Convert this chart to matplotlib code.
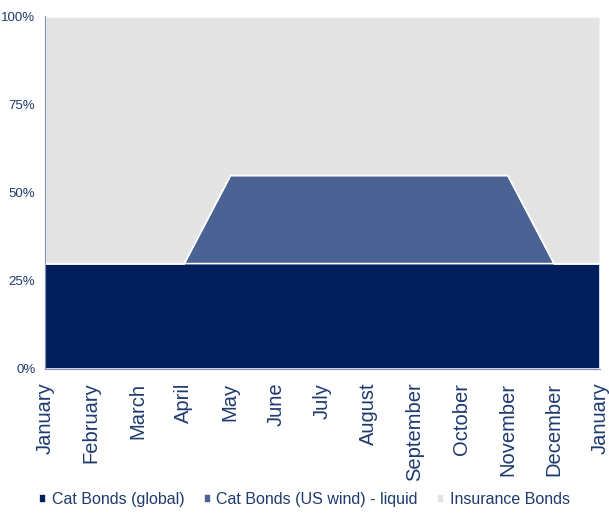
import numpy as np
import matplotlib
matplotlib.use("Agg")
import matplotlib.pyplot as plt

# data (percent of allocation per month)
months = ["January", "February", "March", "April", "May", "June", "July",
          "August", "September", "October", "November", "December", "January"]
cat_global = [30, 30, 30, 30, 30, 30, 30, 30, 30, 30, 30, 30, 30]
cat_us_wind = [0, 0, 0, 0, 25, 25, 25, 25, 25, 25, 25, 0, 0]
insurance = [100 - a - b for a, b in zip(cat_global, cat_us_wind)]

labels = ["Cat Bonds (global)", "Cat Bonds (US wind) - liquid", "Insurance Bonds"]
colors = ["#001F5B", "#4A6394", "#E3E3E3"]
text_col = "#1F3A6E"

plt.rcParams["font.family"] = ["Liberation Sans", "DejaVu Sans"]

fig = plt.figure(figsize=(6.09, 5.13), dpi=100)
ax = fig.add_axes([0.074, 0.281, 0.911, 0.687])

x = np.arange(len(months))
ax.stackplot(x, cat_global, cat_us_wind, insurance, colors=colors,
             labels=labels, edgecolor="white", linewidth=1.2)

ax.set_xlim(0, len(months) - 1)
ax.set_ylim(0, 100)
ax.set_xticks(x)
ax.set_xticklabels(months, rotation=90, va="top", ha="center",
                   fontsize=14.5, color=text_col)
ax.set_yticks([0, 25, 50, 75, 100])
ax.set_yticklabels([f"{v}%" for v in [0, 25, 50, 75, 100]],
                   fontsize=9.5, color=text_col)
ax.tick_params(axis="y", length=0, pad=7)
ax.tick_params(axis="x", length=0, pad=10)

for side in ["top", "right"]:
    ax.spines[side].set_visible(False)
ax.spines["left"].set_color("#8090B8")
ax.spines["bottom"].set_color("#8090B8")

handles, labs = ax.get_legend_handles_labels()
fig.legend(handles, labs, loc="center", bbox_to_anchor=(0.5, 0.026), ncol=3,
           frameon=False, fontsize=11.5, labelcolor=text_col,
           handlelength=0.45, handleheight=0.45, handletextpad=0.35,
           columnspacing=1.2)

fig.savefig("out.png", dpi=100)
plt.close(fig)
